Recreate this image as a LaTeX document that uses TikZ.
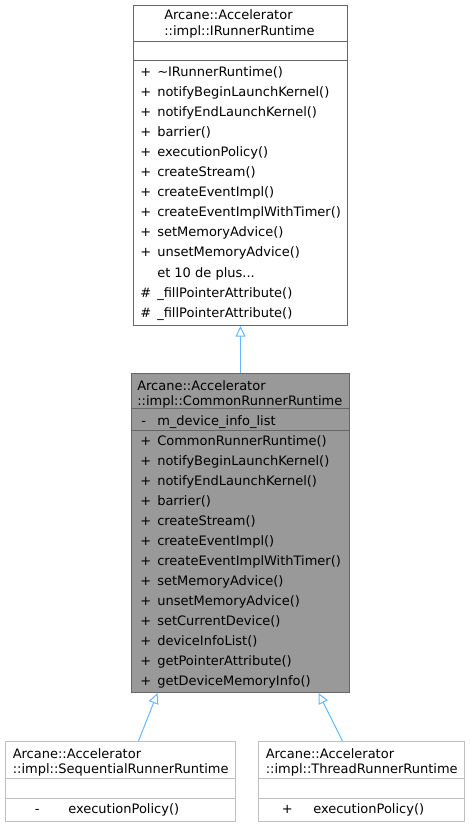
\documentclass[tikz,border=0pt]{standalone}
\usepackage{fontspec}
\setmainfont{DejaVu Sans}
\usetikzlibrary{arrows.meta, positioning}
\definecolor{edgeBlue}{RGB}{99, 184, 255}
\definecolor{boxGray}{RGB}{153, 153, 153}
\definecolor{lineDark}{RGB}{102, 102, 102}
\definecolor{lineLight}{RGB}{191, 191, 191}

\begin{document}
\begin{tikzpicture}[
        x=0.75pt,
        y=-0.75pt,
        classBase/.style={
            anchor=north west,
            inner sep=0pt,
            line width=0.75pt
        },
        classWhite/.style={classBase, draw=lineDark, fill=white},
        classGray/.style={classBase, draw=lineDark, fill=boxGray},
        classLight/.style={classBase, draw=lineLight, fill=white},
        member/.style={anchor=base west, inner sep=0pt, font=\fontsize{9.75}{12}\selectfont},
        inherit/.style={line width=0.75pt, edgeBlue, -{Triangle[open, length=8pt, width=7.5pt]}}
    ]
        \useasboundingbox (0,0) rectangle (469,827);

        % base class
        \node[classWhite, minimum width=214*0.75pt, minimum height=320*0.75pt] (iRunner) at (133,5) {};
        \draw[lineDark, line width=0.75pt] (iRunner.west |- 0,42) -- (iRunner.east |- 0,42);
        \draw[lineDark, line width=0.75pt] (iRunner.west |- 0,61) -- (iRunner.east |- 0,61);
        \node[member] (iRunnerT1) at (164,20) {Arcane::Accelerator};
        \node[member] (iRunnerT2) at (164,36) {::impl::IRunnerRuntime};
        \foreach \sym/\name [count=\i from 0] in {+/\textasciitilde IRunnerRuntime(), +/notifyBeginLaunchKernel(),
            +/notifyEndLaunchKernel(), +/barrier(), +/executionPolicy(), +/createStream(), +/createEventImpl(),
            +/createEventImplWithTimer(), +/setMemoryAdvice(), +/unsetMemoryAdvice(), {}/{et 10 de plus...},
            \#/\_fillPointerAttribute(), \#/\_fillPointerAttribute()} {
            \node[member] (iRunnerS\i) at (140,{77+20*\i}) {\sym};
            \node[member] (iRunnerM\i) at (157,{77+20*\i}) {\name};
        }

        % common runtime
        \node[classGray, minimum width=218*0.75pt, minimum height=319*0.75pt] (common) at (131,373) {};
        \draw[lineDark, line width=0.75pt] (common.west |- 0,408) -- (common.east |- 0,408);
        \draw[lineDark, line width=0.75pt] (common.west |- 0,430) -- (common.east |- 0,430);
        \node[member] (commonT1) at (137,390) {Arcane::Accelerator};
        \node[member] (commonT2) at (137,405) {::impl::CommonRunnerRuntime};
        \node[member] (commonAS) at (141,425) {-};
        \node[member] (commonA) at (157,425) {m\_device\_info\_list};
        \foreach \name [count=\i from 0] in {CommonRunnerRuntime(), notifyBeginLaunchKernel(),
            notifyEndLaunchKernel(), barrier(), createStream(), createEventImpl(), createEventImplWithTimer(),
            setMemoryAdvice(), unsetMemoryAdvice(), setCurrentDevice(), deviceInfoList(),
            getPointerAttribute(), getDeviceMemoryInfo()} {
            \node[member] (commonS\i) at (140,{445+20*\i}) {+};
            \node[member] (commonM\i) at (157,{445+20*\i}) {\name};
        }

        % derived classes
        \node[classLight, minimum width=230*0.75pt, minimum height=80*0.75pt] (sequential) at (5,741) {};
        \draw[lineLight, line width=0.75pt] (sequential.west |- 0,778) -- (sequential.east |- 0,778);
        \draw[lineLight, line width=0.75pt] (sequential.west |- 0,798) -- (sequential.east |- 0,798);
        \node[member] (sequentialT1) at (12.5,758) {Arcane::Accelerator};
        \node[member] (sequentialT2) at (12.5,773) {::impl::SequentialRunnerRuntime};
        \node[member] (sequentialS) at (34.5,813) {-};
        \node[member] (sequentialM) at (68,813) {executionPolicy()};

        \node[classLight, minimum width=206*0.75pt, minimum height=80*0.75pt] (thread) at (258,741) {};
        \draw[lineLight, line width=0.75pt] (thread.west |- 0,778) -- (thread.east |- 0,778);
        \draw[lineLight, line width=0.75pt] (thread.west |- 0,798) -- (thread.east |- 0,798);
        \node[member] (threadT1) at (265.5,758) {Arcane::Accelerator};
        \node[member] (threadT2) at (265.5,773) {::impl::ThreadRunnerRuntime};
        \node[member] (threadS) at (281.5,813) {+};
        \node[member] (threadM) at (313,813) {executionPolicy()};

        % inheritance
        \draw[inherit] (common.north) -- (iRunner.south);
        \draw[inherit] ([xshift=13.5pt]sequential.north) -- ([xshift=-62.25pt]common.south);
        \draw[inherit] ([xshift=-14.25pt]thread.north) -- ([xshift=58.5pt]common.south);
    \end{tikzpicture}
\end{document}
